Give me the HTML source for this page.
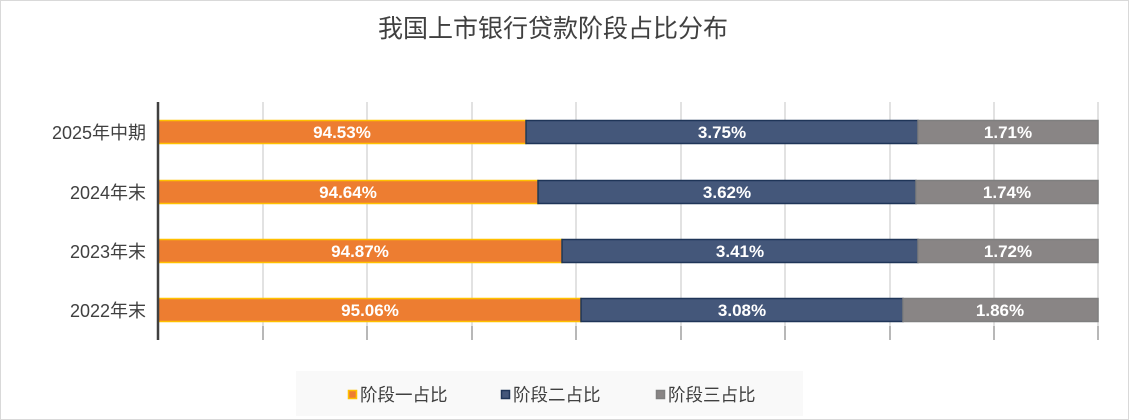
<!DOCTYPE html>
<html><head><meta charset="utf-8"><style>
html,body{margin:0;padding:0;background:#fff;}
svg{display:block;font-family:"Liberation Sans","Noto Sans CJK SC",sans-serif;}
</style></head><body>
<svg width="1129" height="420" viewBox="0 0 1129 420" xmlns="http://www.w3.org/2000/svg">
<rect x="0.5" y="0.5" width="1128" height="419" fill="#fff" stroke="#d9d9d9"/>
<text x="553" y="37" text-anchor="middle" font-size="25" fill="#404040">我国上市银行贷款阶段占比分布</text>
<g stroke="#d9d9d9" stroke-width="1.5">
<line x1="263" y1="102" x2="263" y2="340"/><line x1="367" y1="102" x2="367" y2="340"/>
<line x1="472" y1="102" x2="472" y2="340"/><line x1="576" y1="102" x2="576" y2="340"/>
<line x1="681" y1="102" x2="681" y2="340"/><line x1="785" y1="102" x2="785" y2="340"/>
<line x1="890" y1="102" x2="890" y2="340"/><line x1="994" y1="102" x2="994" y2="340"/>
<line x1="1098" y1="102" x2="1098" y2="340"/>
</g>
<g stroke="#a6a6a6" stroke-width="1.5">
<line x1="263" y1="326" x2="263" y2="340"/><line x1="367" y1="326" x2="367" y2="340"/>
<line x1="472" y1="326" x2="472" y2="340"/><line x1="576" y1="326" x2="576" y2="340"/>
<line x1="681" y1="326" x2="681" y2="340"/><line x1="785" y1="326" x2="785" y2="340"/>
<line x1="890" y1="326" x2="890" y2="340"/><line x1="994" y1="326" x2="994" y2="340"/>
<line x1="1098" y1="326" x2="1098" y2="340"/>
</g>
<g stroke-width="1.5">
<rect x="158" y="120.5" width="368" height="23" fill="#ED7D31" stroke="#FFC000"/>
<rect x="526" y="120.5" width="392" height="23" fill="#44577A" stroke="#1F3558"/>
<rect x="918" y="120.5" width="180" height="23" fill="#898585" stroke="#7F7F7F"/>
<rect x="158" y="180.5" width="380" height="23" fill="#ED7D31" stroke="#FFC000"/>
<rect x="538" y="180.5" width="378" height="23" fill="#44577A" stroke="#1F3558"/>
<rect x="916" y="180.5" width="182" height="23" fill="#898585" stroke="#7F7F7F"/>
<rect x="158" y="239.5" width="404" height="23" fill="#ED7D31" stroke="#FFC000"/>
<rect x="562" y="239.5" width="356" height="23" fill="#44577A" stroke="#1F3558"/>
<rect x="918" y="239.5" width="180" height="23" fill="#898585" stroke="#7F7F7F"/>
<rect x="158" y="298.5" width="423" height="23" fill="#ED7D31" stroke="#FFC000"/>
<rect x="581" y="298.5" width="322" height="23" fill="#44577A" stroke="#1F3558"/>
<rect x="903" y="298.5" width="195" height="23" fill="#898585" stroke="#7F7F7F"/>
</g>
<line x1="158" y1="102" x2="158" y2="340" stroke="#404040" stroke-width="2.5"/>
<g font-size="17" font-weight="bold" fill="#fff" text-anchor="middle">
<text x="342" y="138">94.53%</text><text x="722" y="138">3.75%</text><text x="1008" y="138">1.71%</text>
<text x="348" y="198">94.64%</text><text x="727" y="198">3.62%</text><text x="1007" y="198">1.74%</text>
<text x="360" y="257">94.87%</text><text x="740" y="257">3.41%</text><text x="1008" y="257">1.72%</text>
<text x="370" y="316">95.06%</text><text x="742" y="316">3.08%</text><text x="1000" y="316">1.86%</text>
</g>
<g font-size="18" fill="#404040" text-anchor="end">
<text x="146" y="139">2025年中期</text>
<text x="146" y="199">2024年末</text>
<text x="146" y="258">2023年末</text>
<text x="146" y="317">2022年末</text>
</g>
<rect x="296" y="371" width="507" height="45" fill="#f9f9f9"/>
<rect x="348.5" y="390.5" width="8" height="8" fill="#ED7D31" stroke="#FFC000" stroke-width="1.5"/>
<rect x="501.5" y="390.5" width="8" height="8" fill="#44577A" stroke="#1F3558" stroke-width="1.5"/>
<rect x="656.5" y="390.5" width="8" height="8" fill="#898585" stroke="#7F7F7F" stroke-width="1.5"/>
<g font-size="17.5" fill="#404040">
<text x="360" y="401">阶段一占比</text>
<text x="513" y="401">阶段二占比</text>
<text x="668" y="401">阶段三占比</text>
</g>
</svg>
</body></html>
